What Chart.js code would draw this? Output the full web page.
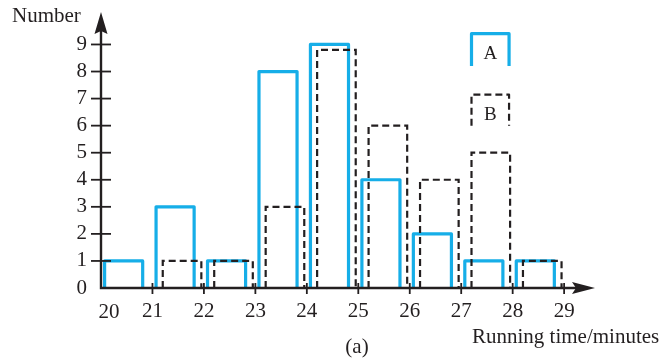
<!DOCTYPE html>
<html>
<head>
<meta charset="utf-8">
<script src="https://cdn.jsdelivr.net/npm/chart.js@4.4.1/dist/chart.umd.min.js"></script>
<style>
html, body { margin: 0; padding: 0; background: #fff; }
</style>
</head>
<body>
<canvas id="myChart" width="665" height="360"></canvas>
<script>
// ------------------------------------------------------------------ data section
var bin_starts = [20, 21, 22, 23, 24, 25, 26, 27, 28];
var a_counts = [1, 3, 1, 8, 9, 4, 2, 1, 1];
var b_counts = [0, 1, 1, 3, 8.8, 6, 4, 5, 1];
var x_tick_labels = ['20', '21', '22', '23', '24', '25', '26', '27', '28', '29'];
var y_tick_labels = ['0', '1', '2', '3', '4', '5', '6', '7', '8', '9'];
var series_names = ['A', 'B'];

var ink = '#231f20';
var cyan = '#16aee8';
var serif = "'Liberation Serif', 'DejaVu Serif', serif";

// open bottomed outline of every bar, a gap (null) between bars
function outline(starts, counts, from, to) {
    var pts = [];
    for (var i = 0; i < starts.length; i++) {
        var x0 = starts[i] + from;
        var x1 = starts[i] + to;
        pts.push({x: x0, y: 0}, {x: x0, y: counts[i]}, {x: x1, y: counts[i]}, {x: x1, y: 0});
        pts.push({x: x1 + 0.02, y: null});
    }
    return pts;
}

// axes with crossing ticks, arrows, titles and the little key
const axesPlugin = {
    id: 'axesPlugin',
    afterDatasetsDraw(chart) {
        const c = chart.ctx;
        const xs = chart.scales.x, ys = chart.scales.y;
        const x0 = xs.getPixelForValue(20), y0 = ys.getPixelForValue(0);
        const top = chart.chartArea.top, right = chart.chartArea.right;
        c.save();
        c.strokeStyle = ink;
        c.fillStyle = ink;
        c.lineWidth = 2.4;
        c.lineCap = 'butt';
        // axis lines
        c.beginPath();
        c.moveTo(x0, top + 12); c.lineTo(x0, y0);
        c.lineTo(right - 14, y0);
        c.stroke();
        // y ticks
        c.lineWidth = 1.8;
        for (var v = 1; v <= 9; v++) {
            var py = ys.getPixelForValue(v);
            c.beginPath(); c.moveTo(x0 - 10, py); c.lineTo(x0 + 10, py); c.stroke();
        }
        // x ticks
        for (var k = 1; k < x_tick_labels.length; k++) {
            var px = xs.getPixelForValue(20 + k);
            c.beginPath(); c.moveTo(px, y0 - 5); c.lineTo(px, y0 + 6); c.stroke();
        }
        // arrow heads
        c.beginPath();
        c.moveTo(x0, top); c.lineTo(x0 - 6.5, top + 22); c.lineTo(x0, top + 19); c.lineTo(x0 + 6.5, top + 22);
        c.closePath(); c.fill();
        c.beginPath();
        c.moveTo(right, y0); c.lineTo(right - 23, y0 - 6); c.lineTo(right - 19, y0); c.lineTo(right - 23, y0 + 6);
        c.closePath(); c.fill();

        // first x label sits right of the axis
        c.font = '21px ' + serif;
        c.textAlign = 'center';
        c.textBaseline = 'alphabetic';
        c.fillText(x_tick_labels[0], x0 + 8, 318);

        // titles
        c.textAlign = 'left';
        c.fillText('Number', 12, 22);
        c.fillText('Running time/minutes', 472, 343);
        c.textAlign = 'center';
        c.fillText('(a)', 357, 353);

        // key
        var kl = xs.getPixelForValue(27.2), kr = xs.getPixelForValue(27.93);
        c.lineJoin = 'round';
        c.strokeStyle = cyan; c.lineWidth = 3.2;
        c.beginPath();
        c.moveTo(kl, ys.getPixelForValue(8.2)); c.lineTo(kl, ys.getPixelForValue(9.4));
        c.lineTo(kr, ys.getPixelForValue(9.4)); c.lineTo(kr, ys.getPixelForValue(8.2));
        c.stroke();
        c.strokeStyle = ink; c.lineWidth = 2.2; c.setLineDash([7, 4]);
        c.beginPath();
        c.moveTo(kl, ys.getPixelForValue(6.0)); c.lineTo(kl, ys.getPixelForValue(7.15));
        c.lineTo(kr, ys.getPixelForValue(7.15)); c.lineTo(kr, ys.getPixelForValue(6.0));
        c.stroke();
        c.setLineDash([]);
        c.font = '19px ' + serif;
        c.fillText(series_names[0], (kl + kr) / 2, ys.getPixelForValue(8.45));
        c.fillText(series_names[1], (kl + kr) / 2, ys.getPixelForValue(6.2));
        c.restore();
    }
};

function noPad(s) {
    s.paddingTop = 0; s.paddingBottom = 0; s.paddingLeft = 0; s.paddingRight = 0;
}

const ctx = document.getElementById('myChart').getContext('2d');
const myChart = new Chart(ctx, {
    type: 'line',
    data: {
        datasets: [{
            label: series_names[1],
            data: outline(bin_starts, b_counts, 0.2, 0.95),
            borderColor: ink,
            borderWidth: 2.2,
            borderDash: [7, 4],
            pointRadius: 0,
            fill: false,
            tension: 0
        }, {
            label: series_names[0],
            data: outline(bin_starts, a_counts, 0.07, 0.81),
            borderColor: cyan,
            borderWidth: 3.2,
            borderJoinStyle: 'round',
            pointRadius: 0,
            fill: false,
            tension: 0
        }]
    },
    options: {
        responsive: false,
        animation: false,
        layout: { padding: { left: 0, right: 70, top: 12, bottom: 0 } },
        plugins: { legend: { display: false }, tooltip: { enabled: false } },
        scales: {
            x: {
                type: 'linear',
                min: 20,
                max: 29.6,
                afterFit: function (s) { s.height = 72; noPad(s); },
                grid: { display: false, drawTicks: false, tickLength: 0 },
                border: { display: false },
                ticks: {
                    stepSize: 1,
                    includeBounds: false,
                    padding: 11,
                    maxRotation: 0,
                    autoSkip: false,
                    color: ink,
                    font: { family: serif, size: 21 },
                    callback: function (v) {
                        var i = Math.round(v - 20);
                        if (Math.abs(v - 20 - i) > 1e-6 || i < 1 || i >= x_tick_labels.length) return null;
                        return x_tick_labels[i];
                    }
                }
            },
            y: {
                min: 0,
                max: 10.2,
                afterFit: function (s) { s.width = 101; noPad(s); },
                grid: { display: false, drawTicks: false, tickLength: 0 },
                border: { display: false },
                ticks: {
                    stepSize: 1,
                    includeBounds: false,
                    padding: 14,
                    color: ink,
                    font: { family: serif, size: 21 },
                    callback: function (v) {
                        var i = Math.round(v);
                        if (Math.abs(v - i) > 1e-6 || i > 9) return null;
                        return y_tick_labels[i];
                    }
                }
            }
        }
    },
    plugins: [axesPlugin]
});
</script>
</body>
</html>
